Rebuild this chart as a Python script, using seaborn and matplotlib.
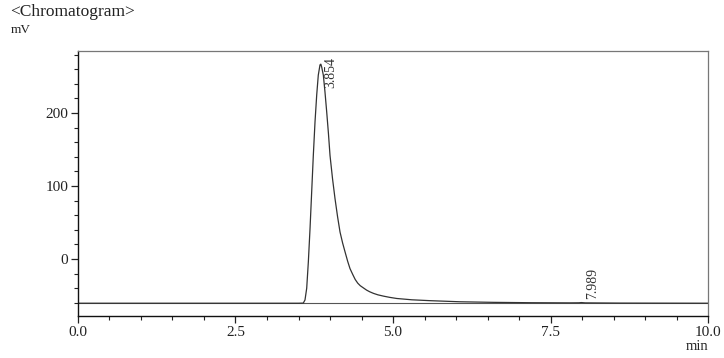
import matplotlib
matplotlib.use("Agg")
import matplotlib.pyplot as plt
import seaborn as sns
import pandas as pd
from matplotlib.ticker import MultipleLocator, FormatStrFormatter

# ---- data ----
time_min = [0.0, 3.50, 3.576, 3.603, 3.630, 3.656, 3.683, 3.709, 3.735, 3.762,
            3.789, 3.814, 3.841, 3.854, 3.868, 3.894, 3.920, 3.947, 3.975, 4.000,
            4.040, 4.079, 4.120, 4.159, 4.200, 4.238, 4.280, 4.317, 4.360, 4.40,
            4.44, 4.48, 4.53, 4.58, 4.63, 4.69, 4.76, 4.85, 4.95, 5.06,
            5.30, 5.59, 6.06, 6.60, 7.20, 7.80, 7.95, 7.989, 8.05, 8.60, 9.30, 10.0]
signal_mv = [-60.5, -60.5, -60.3, -56, -40, -4, 42, 92, 142, 188,
             225, 252, 266, 267, 263, 252, 229, 202, 172, 142,
             110, 83, 58, 37, 22, 10, -3, -13, -21, -28,
             -33, -36.5, -39.5, -42.5, -44.8, -47, -49, -50.8, -52.5, -54,
             -55.8, -57, -58.5, -59.3, -59.8, -60.0, -59.9, -59.6, -60.0, -60.3, -60.4, -60.5]
peak_times = [3.854, 7.989]
peak_heights = [267, -59.6]
peak_labels = ["3.854", "7.989"]
baseline_mv = -60.5

df = pd.DataFrame({"time": time_min, "signal": signal_mv})

sns.set_style("white")
plt.rcParams["font.family"] = ["Liberation Serif", "DejaVu Serif"]

fig = plt.figure(figsize=(7.24, 3.58), dpi=100)
ax = fig.add_axes([0.1077, 0.1173, 0.8703, 0.7402])

ax.axhline(baseline_mv, color="#555555", lw=0.8, zorder=1)
sns.lineplot(data=df, x="time", y="signal", ax=ax, color="#333333", lw=0.9,
             estimator=None, sort=False, zorder=2)

ax.set_xlim(0, 10)
ax.set_ylim(-78, 285)
ax.xaxis.set_major_locator(MultipleLocator(2.5))
ax.xaxis.set_minor_locator(MultipleLocator(0.5))
ax.yaxis.set_major_locator(MultipleLocator(100))
ax.yaxis.set_minor_locator(MultipleLocator(20))
ax.xaxis.set_major_formatter(FormatStrFormatter("%.1f"))
ax.yaxis.set_major_formatter(FormatStrFormatter("%d"))
ax.tick_params(axis="both", which="major", direction="out", length=5, width=0.9,
               labelsize=11, colors="#222222", pad=2,
               bottom=True, left=True, top=False, right=False)
ax.tick_params(axis="both", which="minor", direction="out", length=3, width=0.8,
               colors="#222222", bottom=True, left=True, top=False, right=False)
ax.set_xlabel("")
ax.set_ylabel("")

for side in ["left", "bottom"]:
    ax.spines[side].set_color("#111111")
    ax.spines[side].set_linewidth(1.0)
for side in ["top", "right"]:
    ax.spines[side].set_color("#777777")
    ax.spines[side].set_linewidth(0.9)

# peak labels
label_offsets = [(7, -6), (8, 14)]
for t, h, lab, off in zip(peak_times, peak_heights, peak_labels, label_offsets):
    ax.annotate(lab, xy=(t, h), xytext=off, textcoords="offset points",
                rotation=90, ha="center", va="center", fontsize=10, color="#333333")

fig.text(10 / 724, 1 - 12 / 358, "<Chromatogram>", fontsize=12.5, ha="left", va="center", color="#222222")
fig.text(11 / 724, 1 - 30 / 358, "mV", fontsize=9.5, ha="left", va="center", color="#222222")
fig.text(708 / 724, 1 - 347 / 358, "min", fontsize=10.5, ha="right", va="center", color="#222222")

fig.savefig("out.png", dpi=100)
